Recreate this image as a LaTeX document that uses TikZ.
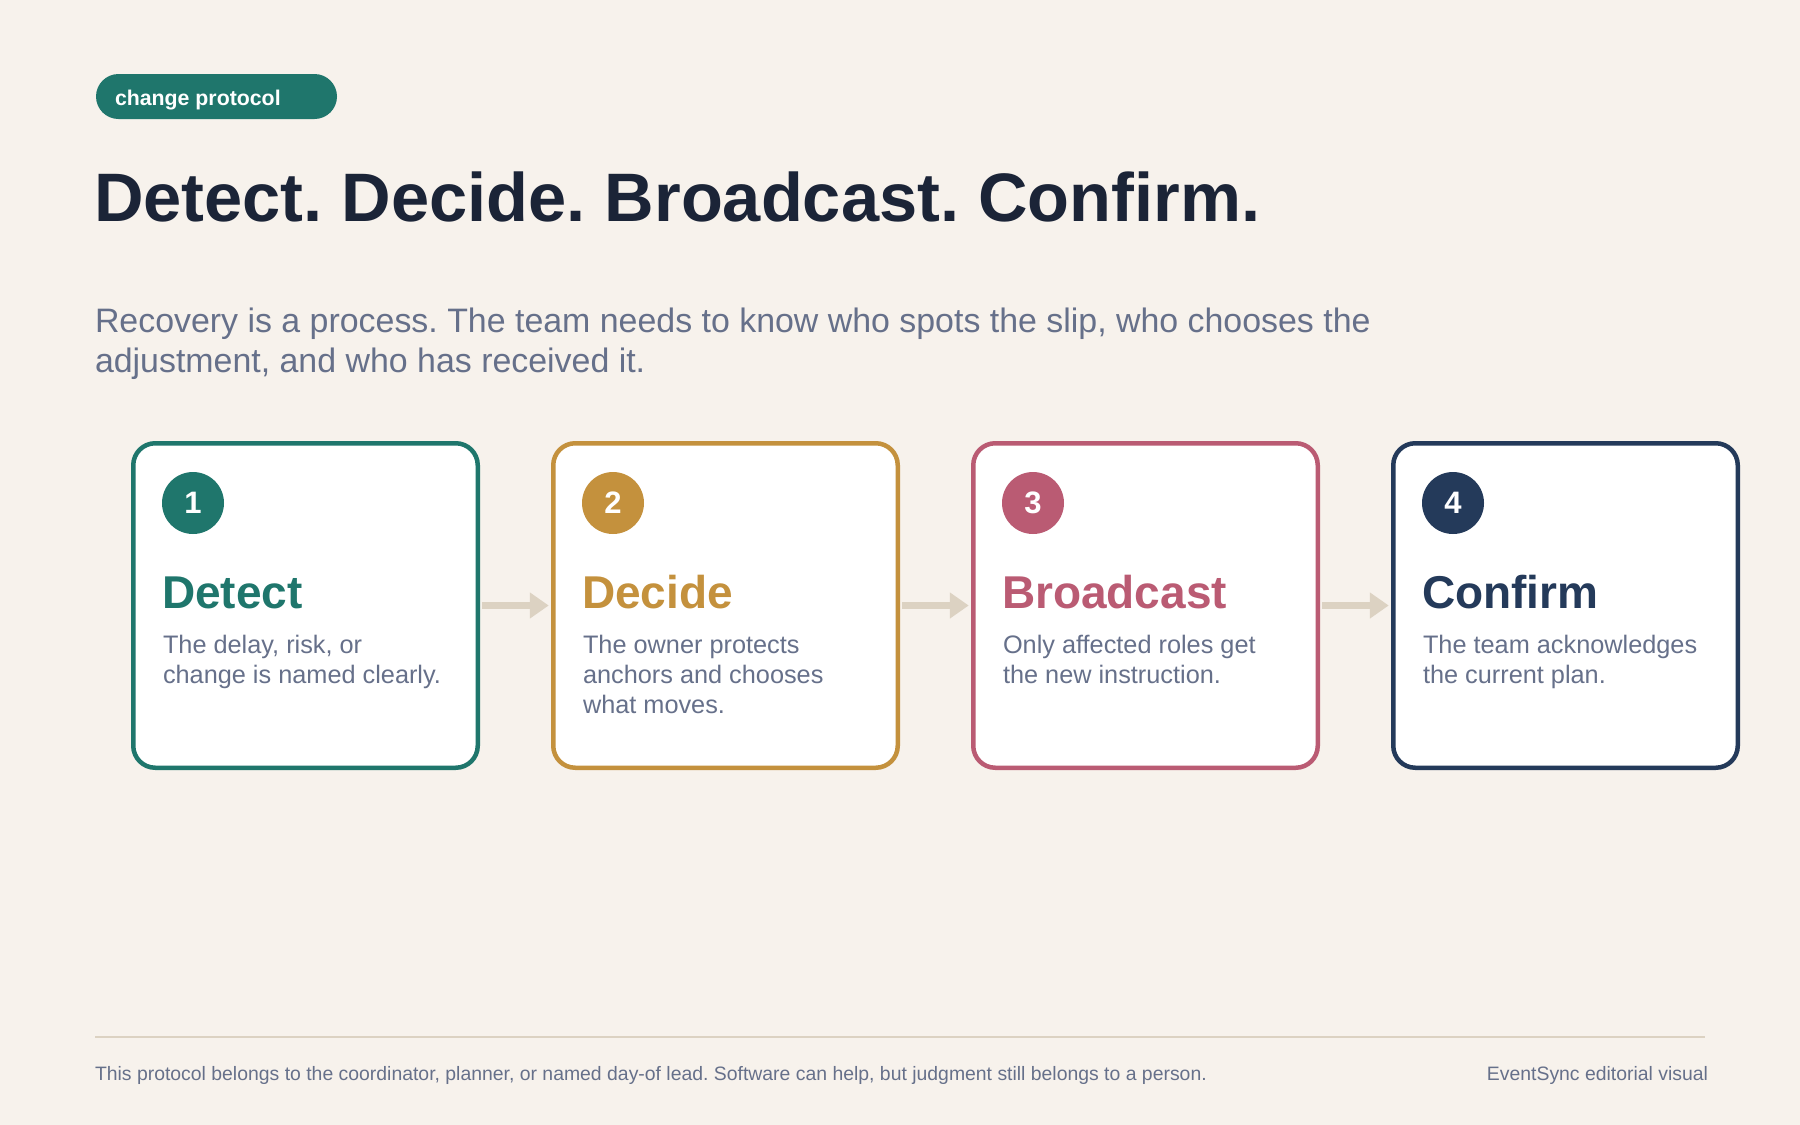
\documentclass[tikz,border=0pt]{standalone}
\usepackage{fontspec}
\setmainfont{Liberation Sans}
\usetikzlibrary{arrows.meta}
\frenchspacing
\definecolor{bgc}{HTML}{F7F2EC}
\definecolor{tealc}{HTML}{1F766C}
\definecolor{goldc}{HTML}{C4913D}
\definecolor{rosec}{HTML}{BA5B73}
\definecolor{navyc}{HTML}{243A5A}
\definecolor{titlec}{HTML}{1B2437}
\definecolor{slatec}{HTML}{66708A}
\definecolor{arrowc}{HTML}{DCD2C2}
\tikzset{
  txt/.style={inner sep=0pt, outer sep=0pt, anchor=base west},
  card/.style={draw=#1, line width=4.5pt, fill=white, rounded corners=22pt,
    minimum width=344.5pt, minimum height=324.5pt, inner sep=0pt},
  badge/.style={circle, fill=#1, minimum size=62pt, inner sep=0pt, text=white,
    font=\bfseries\fontsize{31}{31}\selectfont},
  heading/.style={txt, text=#1, font=\bfseries\fontsize{46}{50}\selectfont},
  body/.style={txt, text=slatec, font=\fontsize{25.3}{30}\selectfont},
  flow/.style={draw=arrowc, line width=7pt, shorten <=2.25pt, shorten >=2.25pt,
    -{Triangle[length=19pt,width=25pt]}},
}
\begin{document}
\begin{tikzpicture}[x=1pt,y=-1pt]
\fill[bgc] (0,0) rectangle (1800,1125);
\useasboundingbox (0,0) rectangle (1800,1125);

% pill
\node[fill=tealc, rounded corners=22.5pt, minimum width=241pt, minimum height=45pt, inner sep=0pt] (pill) at (216.5,96.5) {};
\node[txt, text=white, font=\bfseries\fontsize{21.3}{24}\selectfont] (pilltext) at (115,105.5) {change protocol};

% title
\node[txt, text=titlec, font=\bfseries\fontsize{68.6}{80}\selectfont] (title) at (94,221) {Detect. Decide. Broadcast. Confirm.};

% subtitle
\node[txt, text=slatec, font=\fontsize{33.9}{40}\selectfont] (sub1) at (95,332) {Recovery is a process. The team needs to know who spots the slip, who chooses the};
\node[txt, text=slatec, font=\fontsize{33.9}{40}\selectfont] (sub2) at (95,372) {adjustment, and who has received it.};

% cards
\node[card=tealc] (c1) at (305.5,605.5) {};
\node[card=goldc] (c2) at (725.5,605.5) {};
\node[card=rosec] (c3) at (1145.5,605.5) {};
\node[card=navyc] (c4) at (1565.5,605.5) {};

% connectors
\draw[flow] (c1.east) -- (c2.west);
\draw[flow] (c2.east) -- (c3.west);
\draw[flow] (c3.east) -- (c4.west);

% card 1
\node[badge=tealc] (b1) at (193,503) {1};
\node[heading=tealc] (h1) at (162,608) {Detect};
\node[body] (t1a) at (163,653) {The delay, risk, or};
\node[body] (t1b) at (163,683) {change is named clearly.};

% card 2
\node[badge=goldc] (b2) at (613,503) {2};
\node[heading=goldc] (h2) at (582,608) {Decide};
\node[body] (t2a) at (583,653) {The owner protects};
\node[body] (t2b) at (583,683) {anchors and chooses};
\node[body] (t2c) at (583,713) {what moves.};

% card 3
\node[badge=rosec] (b3) at (1033,503) {3};
\node[heading=rosec] (h3) at (1002,608) {Broadcast};
\node[body] (t3a) at (1003,653) {Only affected roles get};
\node[body] (t3b) at (1003,683) {the new instruction.};

% card 4
\node[badge=navyc] (b4) at (1453,503) {4};
\node[heading=navyc] (h4) at (1422,608) {Confirm};
\node[body] (t4a) at (1423,653) {The team acknowledges};
\node[body] (t4b) at (1423,683) {the current plan.};

% footer
\coordinate (rl) at (95,1037);
\coordinate (rr) at (1705,1037);
\draw[arrowc, line width=2pt] (rl) -- (rr);
\node[txt, text=slatec, font=\fontsize{19.4}{22}\selectfont] (f1) at (95,1080) {This protocol belongs to the coordinator, planner, or named day-of lead. Software can help, but judgment still belongs to a person.};
\node[txt, anchor=base east, text=slatec, font=\fontsize{19.4}{22}\selectfont] (f2) at (1708,1080) {EventSync editorial visual};
\end{tikzpicture}
\end{document}
